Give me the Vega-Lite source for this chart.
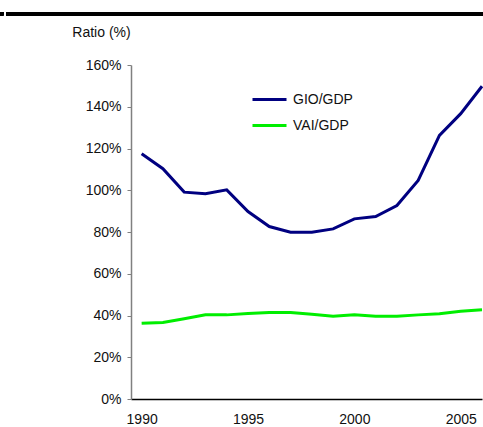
{
  "$schema": "https://vega.github.io/schema/vega-lite/v6.json",
  "autosize": {"type": "none"},
  "width": 351,
  "height": 334,
  "padding": {"left": 131, "top": 65, "right": 1, "bottom": 28},
  "background": "white",
  "config": {
    "view": {"stroke": null},
    "font": "Liberation Sans",
    "axis": {"labelFont": "Liberation Sans", "labelFontSize": 14, "labelColor": "#111", "grid": false, "titleFont": "Liberation Sans"},
    "legend": {"labelFont": "Liberation Sans", "labelFontSize": 14, "labelColor": "#111"}
  },
  "data": {
    "values": [
      {"year": 1990, "series": "GIO/GDP", "value": 117.5},
      {"year": 1991, "series": "GIO/GDP", "value": 110.3},
      {"year": 1992, "series": "GIO/GDP", "value": 99.1},
      {"year": 1993, "series": "GIO/GDP", "value": 98.3},
      {"year": 1994, "series": "GIO/GDP", "value": 100.2},
      {"year": 1995, "series": "GIO/GDP", "value": 89.8},
      {"year": 1996, "series": "GIO/GDP", "value": 82.6},
      {"year": 1997, "series": "GIO/GDP", "value": 79.9},
      {"year": 1998, "series": "GIO/GDP", "value": 79.9},
      {"year": 1999, "series": "GIO/GDP", "value": 81.5},
      {"year": 2000, "series": "GIO/GDP", "value": 86.3},
      {"year": 2001, "series": "GIO/GDP", "value": 87.4},
      {"year": 2002, "series": "GIO/GDP", "value": 92.7},
      {"year": 2003, "series": "GIO/GDP", "value": 104.7},
      {"year": 2004, "series": "GIO/GDP", "value": 126.3},
      {"year": 2005, "series": "GIO/GDP", "value": 136.7},
      {"year": 2006, "series": "GIO/GDP", "value": 149.8},
      {"year": 1990, "series": "VAI/GDP", "value": 36.3},
      {"year": 1991, "series": "VAI/GDP", "value": 36.7},
      {"year": 1992, "series": "VAI/GDP", "value": 38.4},
      {"year": 1993, "series": "VAI/GDP", "value": 40.3},
      {"year": 1994, "series": "VAI/GDP", "value": 40.3},
      {"year": 1995, "series": "VAI/GDP", "value": 40.9},
      {"year": 1996, "series": "VAI/GDP", "value": 41.4},
      {"year": 1997, "series": "VAI/GDP", "value": 41.4},
      {"year": 1998, "series": "VAI/GDP", "value": 40.6},
      {"year": 1999, "series": "VAI/GDP", "value": 39.6},
      {"year": 2000, "series": "VAI/GDP", "value": 40.4},
      {"year": 2001, "series": "VAI/GDP", "value": 39.6},
      {"year": 2002, "series": "VAI/GDP", "value": 39.6},
      {"year": 2003, "series": "VAI/GDP", "value": 40.3},
      {"year": 2004, "series": "VAI/GDP", "value": 40.8},
      {"year": 2005, "series": "VAI/GDP", "value": 42.0},
      {"year": 2006, "series": "VAI/GDP", "value": 42.7}
    ]
  },
  "layer": [
    {
      "mark": {"type": "line", "strokeWidth": 3, "clip": false},
      "encoding": {
        "x": {
          "field": "year", "type": "quantitative",
          "scale": {"domain": [1989.5, 2006], "nice": false, "zero": false},
          "axis": {"values": [1990, 1995, 2000, 2005], "format": "d", "title": null, "ticks": false, "tickSize": 0, "labelPadding": 13, "domainColor": "#000", "domainWidth": 1.5, "labelFlush": false}
        },
        "y": {
          "field": "value", "type": "quantitative",
          "scale": {"domain": [0, 160], "nice": false},
          "axis": {"values": [0, 20, 40, 60, 80, 100, 120, 140, 160], "labelExpr": "datum.value + '%'", "tickSize": 4, "labelPadding": 6, "tickColor": "#808080", "domainColor": "#808080", "domainWidth": 1.5,
            "title": "Ratio (%)", "titleAngle": 0, "titleAlign": "center", "titleBaseline": "middle", "titleX": -30, "titleY": -33, "titleFontSize": 14, "titleFontWeight": "normal", "titleColor": "#111"}
        },
        "color": {
          "field": "series", "type": "nominal",
          "scale": {"domain": ["GIO/GDP", "VAI/GDP"], "range": ["#000080", "#00ee00"]},
          "legend": {"title": null, "orient": "none", "legendX": 120, "legendY": 16, "symbolType": "stroke", "symbolSize": 1156, "symbolStrokeWidth": 3, "labelOffset": 5, "rowPadding": -8}
        }
      }
    },
    {
      "mark": {"type": "rule", "color": "#000", "strokeWidth": 3, "clip": false},
      "encoding": {
        "x": {"datum": 1983.64},
        "x2": {"datum": 2006.1},
        "y": {"datum": 184.6}
      }
    },
    {
      "mark": {"type": "rule", "color": "#000", "strokeWidth": 3, "clip": false},
      "encoding": {
        "x": {"datum": 1983.3},
        "x2": {"datum": 1983.5},
        "y": {"datum": 184.6}
      }
    }
  ]
}
